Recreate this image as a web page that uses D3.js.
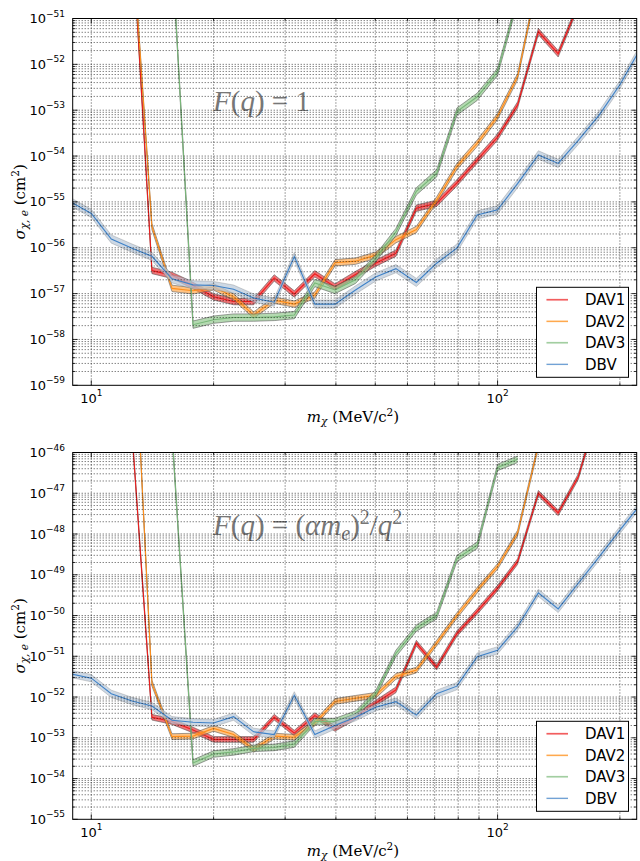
<!DOCTYPE html>
<html>
<head>
<meta charset="utf-8">
<script src="https://cdn.jsdelivr.net/npm/d3@7"></script>
<style>
  body { margin: 0; background: #fff; }
  svg { display: block; }
</style>
</head>
<body>
<div id="chart"></div>
<script>
// dark matter mass grid (MeV/c^2)
const mass = [8.91, 10.0, 11.2, 12.6, 14.1, 15.8, 17.8, 20.0, 22.4, 25.1, 28.2, 31.6, 35.5, 39.8, 44.7,
  50.1, 56.2, 63.1, 70.8, 79.4, 89.1, 100, 112, 126, 141, 158, 178, 200, 224]

const seriesNames = ["DAV1", "DAV2", "DAV3", "DBV"]

// F(q) = 1
const heavyDAV1 = [null, null, null, 8e-50, 3.2e-57, 2.5e-57, 1.5e-57, 8.5e-58, 6.7e-58, 6.7e-58, 2.2e-57, 9.8e-58,
  2.7e-57, 1.4e-57, 2.6e-57, 4.6e-57, 7.6e-57, 7.3e-56, 9.3e-56, 2.6e-55, 8.2e-55, 2.6e-54, 1.3e-53, 5.2e-52,
  1.7e-52, 2e-51, null, null, null]
const heavyDAV2 = [null, null, null, 7e-50, 2.9e-56, 1.3e-57, 1.15e-57, 1.4e-57, 8.5e-58, 3.4e-58, 7.2e-58, 5.9e-58,
  9.3e-58, 4.7e-57, 5.1e-57, 6.9e-57, 1.5e-56, 2.5e-56, 1.1e-55, 5.9e-55, 1.9e-54, 7.3e-54, 5.4e-53, 7.6e-51,
  null, null, null, null, null]
const heavyDAV3 = [null, null, null, null, null, 3e-50, 2.1e-58, 2.7e-58, 3.0e-58, 3.0e-58, 3.1e-58, 3.4e-58,
  1.7e-57, 1.2e-57, 2.0e-57, 5.9e-57, 2.2e-56, 1.7e-55, 4.2e-55, 9.3e-54, 1.96e-53, 6.9e-53, 2.6e-51,
  null, null, null, null, null, null]
const heavyDBV = [1e-55, 5.6e-56, 1.55e-56, 9.8e-57, 6.5e-57, 2.1e-57, 1.55e-57, 1.5e-57, 1.25e-57, 8e-58, 6.5e-58,
  6.4e-57, 5.9e-58, 5.9e-58, 1.2e-57, 2.3e-57, 3.5e-57, 1.75e-57, 4.6e-57, 9.8e-57, 5.2e-56, 6.7e-56, 2.5e-55,
  1.06e-54, 6.9e-55, 2.2e-54, 7.9e-54, 3.6e-53, 2.1e-52]

// F(q) = (alpha m_e)^2 / q^2
const lightDAV1 = [null, null, null, 3e-46, 3.2e-53, 2.5e-53, 1.55e-53, 9.1e-54, 9.1e-54, 9.1e-54, 3.2e-53, 1.3e-53,
  3.5e-53, 1.7e-53, 3.3e-53, 7.1e-53, 1.5e-52, 2.1e-51, 5.4e-52, 3.6e-51, 1.26e-50, 4.7e-50, 2.1e-49, 1e-47,
  3.3e-48, 2.55e-47, 1.3e-45, null, null]
const lightDAV2 = [null, null, null, 1.5e-42, 2.2e-52, 1.07e-53, 1.1e-53, 1.7e-53, 1.2e-53, 5.2e-54, 1.1e-53, 1.03e-53,
  2.3e-53, 7.8e-53, 9.3e-53, 1.1e-52, 3.2e-52, 4.6e-52, 2.1e-51, 1.0e-50, 4.2e-50, 1.6e-49, 1.05e-48, 1.5e-46,
  null, null, null, null, null]
const lightDAV3 = [null, null, null, null, null, 3e-46, 2.4e-54, 4e-54, 4.5e-54, 5.5e-54, 5.8e-54, 7.0e-54,
  2.5e-53, 2.5e-53, 3.8e-53, 1.2e-52, 1.17e-51, 4.9e-51, 1.0e-50, 2.5e-49, 5.3e-49, 4.3e-47, 6.8e-47,
  null, null, null, null, null, null]
const lightDBV = [3.7e-52, 2.9e-52, 1.2e-52, 8e-53, 6e-53, 2.7e-53, 2.4e-53, 2.3e-53, 3.3e-53, 1.4e-53, 1.2e-53,
  1.1e-52, 1.2e-53, 2.0e-53, 3.2e-53, 5.6e-53, 7.7e-53, 3.6e-53, 1.2e-52, 1.85e-52, 9.8e-52, 1.4e-51, 5.3e-51,
  3.6e-50, 1.45e-50, 6.2e-50, 2.8e-49, 1.25e-48, 5.1e-48]

// half width of the shaded bands, in decades
const bandHalf = [0.07, 0.07, 0.08, 0.09]

const xDomain = [9, 220]
const xMajor = [10, 100]
const xMajorExp = ["1", "2"]
const xMinor = [20, 30, 40, 50, 60, 70, 80, 90, 200]
const heavyDecades = [-59, -58, -57, -56, -55, -54, -53, -52, -51]
const lightDecades = [-55, -54, -53, -52, -51, -50, -49, -48, -47, -46]

const lineColors = ["#ee1c1c", "#ff8f1a", "#79b879", "#3f82c8"]
const fillColors = ["#e8151b", "#ff9a2e", "#8cc487", "#b8c8d8"]
const fillOpacity = [0.6, 0.6, 0.65, 0.7]
const edgeOpacity = [0.7, 0.7, 0.7, 0.3]

const W = 640, H = 861
const left = 72.7, right = 636.7

const svg = d3.select("#chart").append("svg")
  .attr("width", W)
  .attr("height", H)
  .attr("viewBox", `0 0 ${W} ${H}`)

const x = d3.scaleLog().domain(xDomain).range([left, right])

const panels = [
  { id: "heavy", data: [heavyDAV1, heavyDAV2, heavyDAV3, heavyDBV], decades: heavyDecades, top: 18.5, bottom: 385.3, note: "one" },
  { id: "light", data: [lightDAV1, lightDAV2, lightDAV3, lightDBV], decades: lightDecades, top: 452.5, bottom: 819.3, note: "q2" }
]

const mathFont = "'Liberation Serif', 'DejaVu Serif', serif"
const labelFont = "'DejaVu Serif', serif"
const sansFont = "'DejaVu Sans', sans-serif"

panels.forEach(p => {
  const dec = p.decades
  const y = d3.scaleLog()
    .domain([Math.pow(10, dec[0]), Math.pow(10, dec[dec.length - 1])])
    .range([p.bottom, p.top])

  const g = svg.append("g").attr("class", "panel-" + p.id)

  g.append("clipPath").attr("id", "clip-" + p.id)
    .append("rect")
    .attr("x", left).attr("y", p.top)
    .attr("width", right - left).attr("height", p.bottom - p.top)

  // annotation (under the grid like the original)
  const note = g.append("text")
    .attr("x", 213)
    .attr("y", p.note === "one" ? 111 : 535)
    .attr("font-family", mathFont)
    .attr("font-size", 29)
    .attr("fill", "#777")
  if (p.note === "one") {
    note.append("tspan").attr("font-style", "italic").text("F")
    note.append("tspan").text("(")
    note.append("tspan").attr("font-style", "italic").text("q")
    note.append("tspan").text(") = 1")
  } else {
    note.append("tspan").attr("font-style", "italic").text("F")
    note.append("tspan").text("(")
    note.append("tspan").attr("font-style", "italic").text("q")
    note.append("tspan").text(") = (")
    note.append("tspan").attr("font-style", "italic").text("αm")
    note.append("tspan").attr("font-style", "italic").attr("font-size", 20).attr("dy", 5).text("e")
    note.append("tspan").attr("dy", -5).text(")")
    note.append("tspan").attr("font-size", 20).attr("dy", -11).text("2")
    note.append("tspan").attr("dy", 11).text("/")
    note.append("tspan").attr("font-style", "italic").text("q")
    note.append("tspan").attr("font-size", 20).attr("dy", -11).text("2")
  }

  const plot = g.append("g").attr("clip-path", `url(#clip-${p.id})`)

  p.data.forEach((vals, si) => {
    const pts = vals.map((v, i) => ({ m: mass[i], v: v }))
    const k = Math.pow(10, bandHalf[si])
    const area = d3.area()
      .defined(d => d.v != null)
      .x(d => x(d.m))
      .y0(d => y(d.v / k))
      .y1(d => y(d.v * k))
    plot.append("path")
      .datum(pts)
      .attr("d", area)
      .attr("fill", fillColors[si])
      .attr("fill-opacity", fillOpacity[si])
      .attr("stroke", "none")
    ;[area.lineY0(), area.lineY1()].forEach(edge => {
      plot.append("path")
        .datum(pts)
        .attr("d", edge)
        .attr("fill", "none")
        .attr("stroke", "#555")
        .attr("stroke-opacity", edgeOpacity[si])
        .attr("stroke-width", 0.8)
    })
    plot.append("path")
      .datum(pts)
      .attr("d", d3.line().defined(d => d.v != null).x(d => x(d.m)).y(d => y(d.v)))
      .attr("fill", "none")
      .attr("stroke", lineColors[si])
      .attr("stroke-width", 1.1)
  })

  // grid
  const yTicks = []
  dec.forEach((e, i) => {
    if (i === dec.length - 1) return
    for (let m = 1; m < 10; m++) yTicks.push({ v: m * Math.pow(10, e), major: m === 1 })
  })
  const grid = g.append("g").attr("stroke", "#000").attr("stroke-width", 0.7)
    .attr("stroke-dasharray", "1,2").attr("fill", "none")
  yTicks.forEach(t => {
    if (t.major && t.v === y.domain()[0]) return
    grid.append("line").attr("x1", left).attr("x2", right)
      .attr("y1", y(t.v)).attr("y2", y(t.v))
  })
  xMajor.concat(xMinor).forEach(v => {
    grid.append("line").attr("x1", x(v)).attr("x2", x(v))
      .attr("y1", p.top).attr("y2", p.bottom)
  })

  // ticks, inward on all sides
  const ticks = g.append("g").attr("stroke", "#000").attr("stroke-width", 0.8)
  yTicks.forEach(t => {
    const len = t.major ? 5 : 2.5
    const yy = y(t.v)
    ticks.append("line").attr("x1", left).attr("x2", left + len).attr("y1", yy).attr("y2", yy)
    ticks.append("line").attr("x1", right).attr("x2", right - len).attr("y1", yy).attr("y2", yy)
  })
  xMajor.concat(xMinor).forEach(v => {
    const len = xMajor.includes(v) ? 5 : 2.5
    const xx = x(v)
    ticks.append("line").attr("x1", xx).attr("x2", xx).attr("y1", p.bottom).attr("y2", p.bottom - len)
    ticks.append("line").attr("x1", xx).attr("x2", xx).attr("y1", p.top).attr("y2", p.top + len)
  })

  // frame
  g.append("rect")
    .attr("x", left).attr("y", p.top)
    .attr("width", right - left).attr("height", p.bottom - p.top)
    .attr("fill", "none").attr("stroke", "#000").attr("stroke-width", 1)

  // y tick labels
  dec.forEach(e => {
    const t = g.append("text")
      .attr("x", 65).attr("y", y(Math.pow(10, e)) + 4.5)
      .attr("text-anchor", "end")
      .attr("font-family", sansFont).attr("font-size", 13)
    t.append("tspan").text("10")
    t.append("tspan").attr("font-size", 9).attr("dy", -6.5).text("\u2212" + Math.abs(e))
  })

  // x tick labels
  xMajor.forEach((v, i) => {
    const t = g.append("text")
      .attr("x", x(v)).attr("y", p.bottom + 17.5)
      .attr("text-anchor", "middle")
      .attr("font-family", sansFont).attr("font-size", 13)
    t.append("tspan").text("10")
    t.append("tspan").attr("font-size", 9).attr("dy", -6.5).text(xMajorExp[i])
  })

  // axis titles
  const xl = g.append("text")
    .attr("x", 353).attr("y", p.bottom + 37)
    .attr("text-anchor", "middle")
    .attr("font-family", labelFont).attr("font-size", 15)
  xl.append("tspan").attr("font-style", "italic").text("m")
  xl.append("tspan").attr("font-style", "italic").attr("font-size", 10.5).attr("dy", 3).text("χ")
  xl.append("tspan").attr("dy", -3).text(" (MeV/c")
  xl.append("tspan").attr("font-size", 10.5).attr("dy", -6).text("2")
  xl.append("tspan").attr("dy", 6).text(")")

  const yl = g.append("text")
    .attr("transform", `translate(25,${(p.top + p.bottom) / 2}) rotate(-90)`)
    .attr("text-anchor", "middle")
    .attr("font-family", labelFont).attr("font-size", 15)
  yl.append("tspan").attr("font-style", "italic").text("σ")
  yl.append("tspan").attr("font-style", "italic").attr("font-size", 10.5).attr("dy", 3).text("χ, e")
  yl.append("tspan").attr("dy", -3).text(" (cm")
  yl.append("tspan").attr("font-size", 10.5).attr("dy", -6).text("2")
  yl.append("tspan").attr("dy", 6).text(")")

  // legend
  const lg = g.append("g").attr("transform", `translate(536.5,${p.bottom - 98})`)
  lg.append("rect").attr("width", 92).attr("height", 90)
    .attr("fill", "#fff").attr("stroke", "#000").attr("stroke-width", 1)
  seriesNames.forEach((name, i) => {
    const cy = 12.5 + i * 21.5
    lg.append("line").attr("x1", 10).attr("x2", 31.5).attr("y1", cy).attr("y2", cy)
      .attr("stroke", fillColors[i]).attr("stroke-opacity", 0.2).attr("stroke-width", 2.5)
    lg.append("line").attr("x1", 10).attr("x2", 31.5).attr("y1", cy).attr("y2", cy)
      .attr("stroke", lineColors[i]).attr("stroke-width", 0.9)
    lg.append("text").attr("x", 48.5).attr("y", cy + 5.5)
      .attr("font-family", sansFont).attr("font-size", 15)
      .text(name)
  })
})
</script>
</body>
</html>
